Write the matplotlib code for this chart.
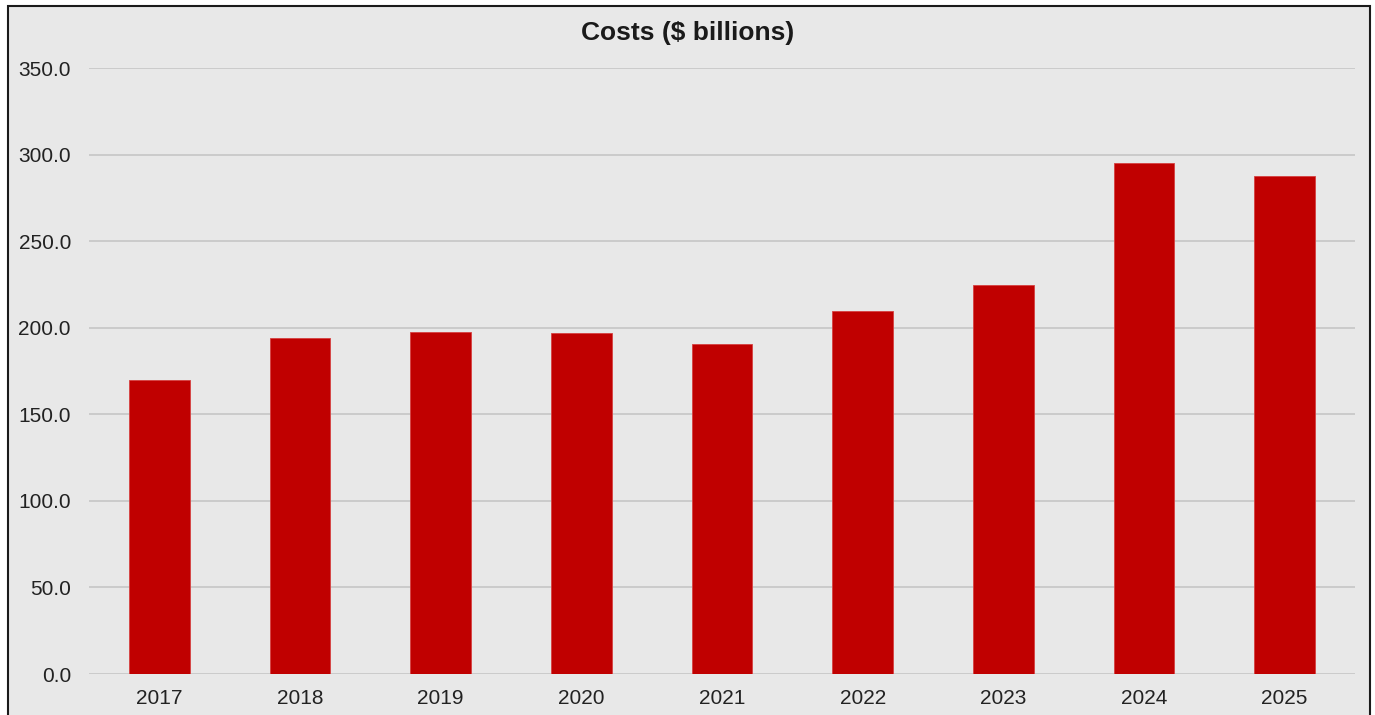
import matplotlib
matplotlib.use("Agg")
import matplotlib.pyplot as plt
from matplotlib.patches import Rectangle

years = ["2017", "2018", "2019", "2020", "2021", "2022", "2023", "2024", "2025"]
costs = [170.0, 194.0, 197.5, 197.0, 190.5, 209.5, 224.5, 295.0, 287.5]
yticks = [0, 50, 100, 150, 200, 250, 300, 350]

plt.rcParams["font.family"] = ["Liberation Sans", "DejaVu Sans"]

fig = plt.figure(figsize=(13.75, 7.15), dpi=100, facecolor="white")
# grey panel with black frame (bottom edge runs off the picture)
fig.patches.append(Rectangle((8 / 1375, -0.02), 1362 / 1375, 1.02 - 6 / 715,
                             transform=fig.transFigure, facecolor="#e8e8e8",
                             edgecolor="#1a1a1a", lw=1.5, zorder=-10))

ax = fig.add_axes([89 / 1375, 41 / 715, 1266 / 1375, 606 / 715])
ax.set_facecolor("none")
ax.set_zorder(1)
x = range(len(years))
ax.bar(x, costs, width=0.43, color="#c00000", edgecolor="#d64040", lw=0.6, zorder=3)
ax.set_xlim(-0.5, len(years) - 0.5)
ax.set_ylim(0, 350)
ax.set_yticks(yticks)
ax.set_yticklabels([f"{v:.1f}" for v in yticks], fontsize=15, color="#222222")
ax.set_xticks(list(x))
ax.set_xticklabels(years, fontsize=15, color="#222222")
ax.tick_params(length=0)
ax.tick_params(axis="y", pad=13)
ax.tick_params(axis="x", pad=11)
ax.yaxis.grid(True, color="#c8c8c8", lw=1.3, zorder=0)
for s in ax.spines.values():
    s.set_visible(False)

fig.text(0.5, 1 - 33 / 715, "Costs ($ billions)", ha="center", va="center",
         fontsize=19, fontweight="bold", color="#1a1a1a", zorder=5)

fig.savefig("out.png", dpi=100)
